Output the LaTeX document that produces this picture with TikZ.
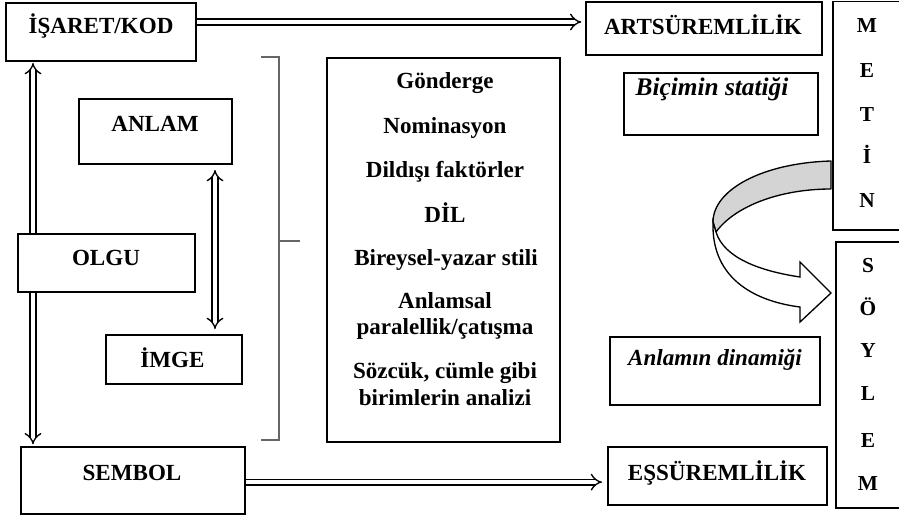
\documentclass[tikz,border=0pt]{standalone}
\usepackage{fontspec}
\setmainfont{Liberation Serif}
\usetikzlibrary{arrows.meta,fit,positioning}
\pgfdeclarelayer{bg}
\pgfsetlayers{bg,main}
\begin{document}
\begin{tikzpicture}[x=0.75pt,y=-0.75pt,
  box/.style={draw=black,line width=1pt,inner sep=0pt,fill=white},
  txt/.style={font=\bfseries\fontsize{17.3}{20}\selectfont,inner sep=0pt,anchor=base},
  itxt/.style={font=\bfseries\itshape\fontsize{17.3}{20}\selectfont,inner sep=0pt,anchor=base},
  ltr/.style={font=\bfseries\fontsize{16}{18}\selectfont,inner sep=0pt,anchor=base},
  dbl/.style={draw=black,line width=1pt,double=white,double distance=3.4pt},
  tipA/.style={-{Implies[length=8pt,width=13pt]}},
  brk/.style={draw=black!60,line width=0.8pt}]
\useasboundingbox (0,0) rectangle (899,517);
\clip (0,0) rectangle (899,517);

% boxes
\node[box,fit={(6,3) (196,61)}] (isaret) {};
\node[box,fit={(79,99) (232,164)}] (anlam) {};
\node[box,fit={(18,234) (195,292)}] (olgu) {};
\node[box,fit={(106,335) (242,384)}] (imge) {};
\node[box,fit={(21,447) (245,514)}] (sembol) {};
\node[box,fit={(327,58) (560,442)}] (central) {};
\node[box,fit={(586,2) (822,55)}] (arts) {};
\node[box,fit={(624,73) (818,135)}] (bicim) {};
\node[box,fit={(610,337) (820,405)}] (dinamik) {};
\node[box,fit={(608,447) (827,505)}] (essur) {};
\node[box,fit={(833,1.5) (910,230)}] (metin) {};
\node[box,fit={(836,242) (910,508)}] (soylem) {};

% texts
\node[txt] (tisaret) at (101,34) {İŞARET/KOD};
\node[txt] (tanlam) at (155,131) {ANLAM};
\node[txt] (tolgu) at (106,265.5) {OLGU};
\node[txt] (timge) at (172.5,367) {İMGE};
\node[txt] (tsembol) at (132,480) {SEMBOL};
\node[txt] (tarts) at (703,35) {ARTSÜREMLİLİK};
\node[itxt,font=\bfseries\itshape\fontsize{19}{22}\selectfont] (tbicim) at (712,95) {Biçimin statiği};
\node[itxt] (tdinamik) at (715,365) {Anlamın dinamiği};
\node[txt] (tessur) at (717,480) {EŞSÜREMLİLİK};

\node[txt] (c1) at (445,89) {Gönderge};
\node[txt] (c2) at (445,133) {Nominasyon};
\node[txt] (c3) at (445,177) {Dildışı faktörler};
\node[txt] (c4) at (445,222) {DİL};
\node[txt] (c5) at (446,265) {Bireysel-yazar stili};
\node[txt] (c6) at (445,308) {Anlamsal};
\node[txt] (c7) at (445,334) {paralellik/çatışma};
\node[txt] (c8) at (445,378) {Sözcük, cümle gibi};
\node[txt] (c9) at (445,405) {birimlerin analizi};

\node[ltr] (m1) at (867,33) {M};
\node[ltr] (m2) at (867,77.5) {E};
\node[ltr] (m3) at (867,121) {T};
\node[ltr] (m4) at (867,163) {İ};
\node[ltr] (m5) at (867,207) {N};

\node[ltr] (s1) at (868,272) {S};
\node[ltr] (s2) at (868,315) {Ö};
\node[ltr] (s3) at (868,357) {Y};
\node[ltr] (s4) at (868,400) {L};
\node[ltr] (s5) at (868,447) {E};
\node[ltr] (s6) at (868,490) {M};

% connectors
\coordinate (lx) at (33,0);
\coordinate (rx) at (215,0);
\begin{pgfonlayer}{bg}
\draw[dbl,tipA] ([yshift=7.5pt]isaret.east) -- ([yshift=7.5pt,xshift=-3pt]isaret.east -| arts.west);
\draw[dbl,tipA] ([yshift=-1.2pt]sembol.east) -- ([yshift=-1.2pt,xshift=-4pt]sembol.east -| essur.west);
\draw[dbl,tipA] (lx |- olgu.north) -- ([yshift=-1pt]lx |- isaret.south);
\draw[dbl,-{Implies[length=9pt,width=16pt]}] (lx |- olgu.south) -- ([yshift=1.5pt]lx |- sembol.north);
\draw[dbl,{Implies[length=8pt,width=12pt]}-{Implies[length=8pt,width=12pt]}] ([yshift=-4pt]rx |- anlam.south) -- ([yshift=4pt]rx |- imge.north);
\end{pgfonlayer}

% bracket
\draw[brk] (261,57) -- (279,57) -- (279,440) -- (261,440);
\draw[brk] (279,241) -- (300,241);

% curved 3D arrow
\draw[line width=1pt,fill=black!17,line join=round]
  (831,161) .. controls (762,163) and (713,190) .. (713,222)
  -- (716,232) .. controls (735,206) and (780,189) .. (831,189) -- cycle;
\draw[line width=1pt,fill=white,line join=miter]
  (713,222) .. controls (711,282) and (760,302) .. (800,307)
  -- (800,322) -- (831,293) -- (800,262) -- (800,277)
  .. controls (760,271) and (724,258) .. (716,232) -- cycle;
\end{tikzpicture}
\end{document}
